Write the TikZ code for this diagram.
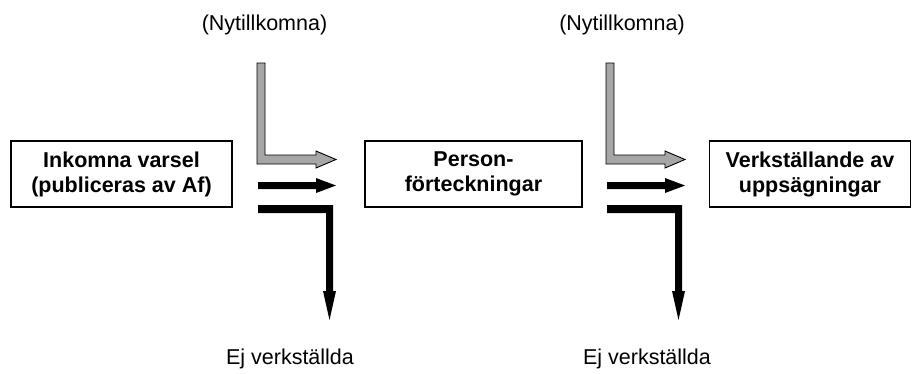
\documentclass[tikz,border=0pt]{standalone}
\usepackage{fontspec}
\setmainfont{Liberation Sans}
\begin{document}
\begin{tikzpicture}[x=1pt,y=-1pt,
  boxnode/.style={draw=black,line width=1.3pt,rectangle,minimum height=66pt,align=center,
    font=\fontsize{21.5}{25}\selectfont\bfseries,inner sep=0pt},
  lbl/.style={font=\fontsize{21.5}{25}\selectfont,inner sep=0pt},
  grayarrow/.style={fill=black!35,draw=black,line width=0.9pt,line join=miter},
  blackarrow/.style={fill=black,draw=none}]
\useasboundingbox (0,0) rectangle (912,373);
\node[boxnode,minimum width=221pt] (b1) at (121.5,174) {Inkomna varsel\\(publiceras av Af)};
\node[boxnode,minimum width=217pt] (b2) at (473.5,174) {Person-\\förteckningar};
\node[boxnode,minimum width=201pt] (b3) at (810,174) {Verkställande av\\uppsägningar};
\node[lbl] (n1) at (264.5,25) {(Nytillkomna)};
\node[lbl] (n2) at (622,25) {(Nytillkomna)};
\node[lbl] (e1) at (290,359) {Ej verkställda};
\node[lbl] (e2) at (647,359) {Ej verkställda};
\foreach \dx/\k in {0/1,349/2}{
  \begin{scope}[xshift=\dx]
    \coordinate (g\k) at (261,63);
    \draw[grayarrow] (257,63) -- (265,63) -- (265,155) -- (316,155) -- (316,151) -- (336,159.5)
      -- (316,168) -- (316,164) -- (257,164) -- cycle;
    \fill[blackarrow] (258,182) -- (316,182) -- (316,178) -- (336,185.5) -- (316,193)
      -- (316,189) -- (258,189) -- cycle;
    \fill[blackarrow] (258,205) -- (333,205) -- (333,291) -- (336,291) -- (329.5,320)
      -- (323,291) -- (326,291) -- (326,213) -- (258,213) -- cycle;
  \end{scope}
}
\end{tikzpicture}
\end{document}
